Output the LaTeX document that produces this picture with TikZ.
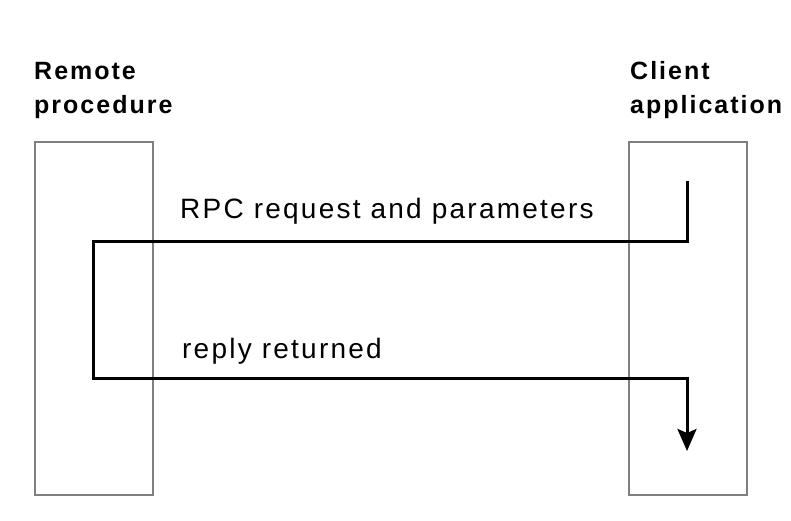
\documentclass[tikz,border=0pt]{standalone}
\usepackage{fontspec}
\setmainfont{Liberation Sans}
\usetikzlibrary{arrows.meta}
\newfontfamily\labelfont[LetterSpace=8]{Liberation Sans}
\newfontfamily\headfont[LetterSpace=8]{Liberation Sans Bold}
\begin{document}
\begin{tikzpicture}[x=1pt,y=-1pt,
  lane/.style={draw=black!50,line width=1.5pt,minimum width=118pt,minimum height=353pt,
    inner sep=0pt,anchor=north west},
  heading/.style={font=\headfont\fontsize{25}{34}\selectfont,align=left,anchor=base west,inner sep=0pt},
  msg/.style={font=\labelfont\fontsize{28}{34}\selectfont,anchor=base west,inner sep=0pt},
  flow/.style={line width=3pt,line cap=butt,line join=miter}]
  \useasboundingbox (0,0) rectangle (791,520);
  % the two participants
  \node[lane] (server) at (34,141) {};
  \node[lane] (client) at (628,141) {};
  % headings are placed by the baseline of their second line
  \node[heading] (serverlabel) at (34,113) {Remote\\procedure};
  \node[heading] (clientlabel) at (630,113) {Client\\application};
  % call path: out from the client, through the remote procedure, and back
  \coordinate (start) at (687,181);
  \coordinate (c1) at (687,241);
  \coordinate (c2) at (93,241);
  \coordinate (c3) at (93,378);
  \coordinate (c4) at (687,378);
  \coordinate (finish) at (687,451);
  \draw[flow,-{Stealth[length=22pt,width=19pt,inset=4pt]}]
    (start) -- (c1) -- (c2) -- (c3) -- (c4) -- (finish);
  \node[msg] (request) at (180,218) {RPC request and parameters};
  \node[msg] (reply) at (182,358) {reply returned};
\end{tikzpicture}
\end{document}
